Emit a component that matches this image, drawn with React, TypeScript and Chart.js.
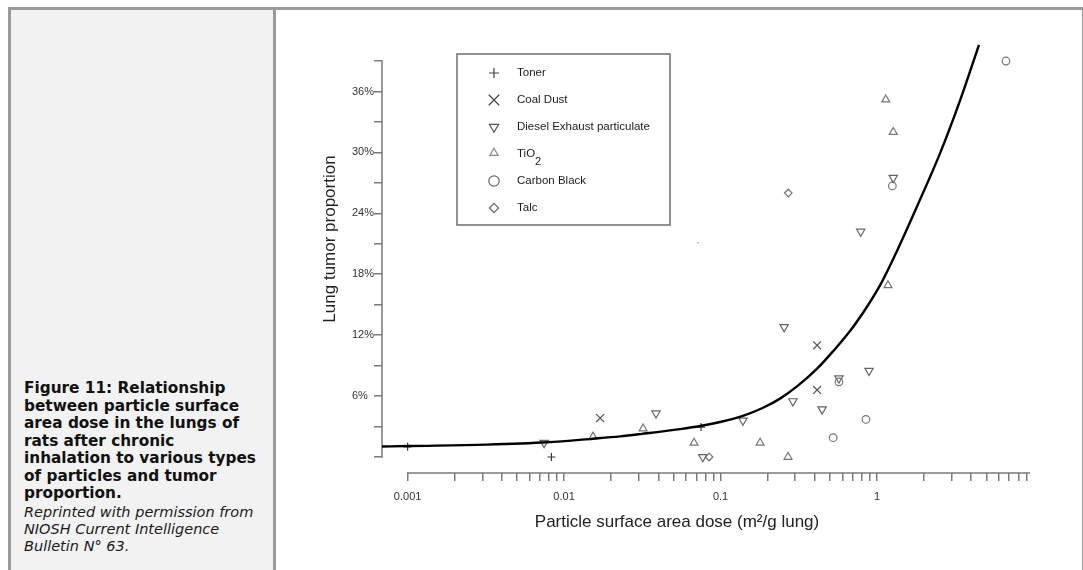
import React, { useEffect, useRef } from 'react';
import { Chart, registerables } from 'chart.js';

Chart.register(...registerables);

// ---------- data ----------
const TONER_X = [0.001, 0.0083, 0.075];
const TONER_Y = [1.0, 0, 2.95];

const COAL_X = [0.017, 0.414, 0.414];
const COAL_Y = [3.84, 11.0, 6.6];

const DIESEL_X = [0.00745, 0.0387, 0.139, 0.255, 0.29, 0.446, 0.571, 0.889, 0.077, 0.787, 1.27];
const DIESEL_Y = [1.4, 4.3, 3.6, 12.8, 5.5, 4.7, 7.75, 8.5, 0, 22.2, 27.5];

const TIO2_X = [0.0153, 0.032, 0.0677, 0.179, 0.27, 1.175, 1.137, 1.27];
const TIO2_Y = [2.0, 2.8, 1.4, 1.4, 0, 16.9, 35.2, 32.0];

const CARBON_X = [0.524, 0.85, 0.571, 1.253, 6.67];
const CARBON_Y = [1.9, 3.7, 7.4, 26.7, 39.0];

const TALC_X = [0.0845, 0.271];
const TALC_Y = [0, 26.0];

const STRAY_X = [0.0718];
const STRAY_Y = [21.1];

const CURVE_X = [0.000686, 0.001, 0.00318, 0.00778, 0.0153, 0.0228, 0.0315, 0.0551, 0.074, 0.0993, 0.139, 0.187, 0.24, 0.308, 0.414, 0.523, 0.672, 0.863, 1.045, 1.342, 1.828, 2.527, 3.391, 4.485];
const CURVE_Y = [1.03, 1.08, 1.22, 1.45, 1.8, 2.03, 2.28, 2.75, 3.05, 3.45, 4.05, 4.85, 5.75, 6.95, 8.7, 10.4, 12.4, 14.8, 16.9, 20.3, 24.9, 29.9, 35.1, 40.6];

const X_DECADES = [0.001, 0.01, 0.1, 1];
const X_DECADE_LABELS = ['0.001', '0.01', '0.1', '1'];
const X_MULTIPLES = [1, 2, 3, 4, 5, 6, 7, 8, 9];
const X_MIN = 0.000686;
const X_MAX = 9.5;

const Y_TICKS = [0, 3, 6, 9, 12, 15, 18, 21, 24, 27, 30, 33, 36, 39];
const Y_LABELLED = [6, 12, 18, 24, 30, 36];
const Y_MIN = -1.576;
const Y_MAX = 43.04;

const X_TITLE = 'Particle surface area dose (m\u00B2/g lung)';
const Y_TITLE = 'Lung tumor proportion';

// ---------- styles ----------
const AXIS_COLOR = '#7a7a7a';
const TICK_FONT = { family: "'Liberation Sans', Arial, sans-serif", size: 11 };
const SANS = "'Liberation Sans', Arial, sans-serif";

const xTicks: { value: number; label: string }[] = [];
X_DECADES.forEach((d, i) => {
  X_MULTIPLES.forEach((m) => {
    xTicks.push({ value: m * d, label: m === 1 ? X_DECADE_LABELS[i] : '' });
  });
});

const pts = (xs: number[], ys: number[]) => xs.map((x, i) => ({ x, y: ys[i] }));

function drawMarker(ctx: CanvasRenderingContext2D, style: string, x: number, y: number, r: number, rot: number) {
  ctx.beginPath();
  if (style === 'cross') {
    ctx.moveTo(x - r, y); ctx.lineTo(x + r, y);
    ctx.moveTo(x, y - r); ctx.lineTo(x, y + r);
  } else if (style === 'crossRot') {
    const d = r * Math.SQRT1_2;
    ctx.moveTo(x - d, y - d); ctx.lineTo(x + d, y + d);
    ctx.moveTo(x - d, y + d); ctx.lineTo(x + d, y - d);
  } else if (style === 'triangle') {
    let a = (rot * Math.PI) / 180;
    ctx.moveTo(x + Math.sin(a) * r, y - Math.cos(a) * r);
    a += (2 * Math.PI) / 3;
    ctx.lineTo(x + Math.sin(a) * r, y - Math.cos(a) * r);
    a += (2 * Math.PI) / 3;
    ctx.lineTo(x + Math.sin(a) * r, y - Math.cos(a) * r);
    ctx.closePath();
  } else if (style === 'circle') {
    ctx.arc(x, y, r, 0, Math.PI * 2);
  } else if (style === 'rectRot') {
    ctx.moveTo(x, y - r); ctx.lineTo(x + r, y); ctx.lineTo(x, y + r); ctx.lineTo(x - r, y);
    ctx.closePath();
  }
  ctx.stroke();
}

const framePlugin = {
  id: 'frame',
  beforeDatasetsDraw(chart: any) {
    const { ctx, chartArea, scales } = chart;
    const x = scales.x;
    const y = scales.y;
    ctx.save();
    ctx.strokeStyle = AXIS_COLOR;
    ctx.lineWidth = 1.5;
    ctx.beginPath();
    ctx.moveTo(chartArea.left, y.getPixelForValue(Y_TICKS[0]) + 0.75);
    ctx.lineTo(chartArea.left, y.getPixelForValue(Y_TICKS[Y_TICKS.length - 1]) - 0.75);
    ctx.stroke();
    ctx.beginPath();
    ctx.moveTo(x.getPixelForValue(X_DECADES[0]) - 0.75, chartArea.bottom);
    ctx.lineTo(chartArea.right, chartArea.bottom);
    ctx.stroke();
    ctx.restore();
  },
  afterDraw(chart: any) {
    const { ctx, chartArea } = chart;
    ctx.save();
    // axis titles
    ctx.fillStyle = '#222';
    ctx.font = `17px ${SANS}`;
    ctx.textAlign = 'center';
    ctx.textBaseline = 'middle';
    ctx.fillText(X_TITLE, chartArea.left + 295, chartArea.bottom + 49);
    ctx.save();
    ctx.translate(chartArea.left - 47, chartArea.top + 219);
    ctx.rotate(-Math.PI / 2);
    ctx.textBaseline = 'alphabetic';
    ctx.fillText(Y_TITLE, 0, 0);
    ctx.restore();

    // legend
    const lx = chartArea.left + 75;
    const ly = chartArea.top + 34;
    ctx.strokeStyle = '#6e6e6e';
    ctx.lineWidth = 1.5;
    ctx.strokeRect(lx, ly, 213, 171);
    const ds = chart.data.datasets.filter((d: any) => d.legendRadius);
    ds.forEach((d: any, i: number) => {
      const ry = ly + 19 + i * 27;
      ctx.strokeStyle = d.legendColor;
      ctx.lineWidth = 1.2;
      drawMarker(ctx, d.pointStyle, lx + 37, ry + (d.legendDy || 0), d.legendRadius, d.pointRotation || 0);
      ctx.fillStyle = '#1a1a1a';
      ctx.font = `11.5px ${SANS}`;
      ctx.textAlign = 'left';
      ctx.textBaseline = 'middle';
      ctx.fillText(d.legendText, lx + 60, ry);
      if (d.legendSub) {
        const w = ctx.measureText(d.legendText).width;
        ctx.font = `11px ${SANS}`;
        ctx.fillText(d.legendSub, lx + 60 + w, ry + 8);
      }
    });
    ctx.restore();
  },
};

const markerBase = {
  showLine: false,
  pointBackgroundColor: 'rgba(0,0,0,0)',
  pointBorderWidth: 1.2,
  pointHoverRadius: 0,
};

export default function App() {
  const ref = useRef<HTMLCanvasElement>(null);

  useEffect(() => {
    const chart = new Chart(ref.current as HTMLCanvasElement, {
      type: 'scatter',
      data: {
        datasets: [
          {
            label: 'Fit', data: pts(CURVE_X, CURVE_Y), showLine: true, borderColor: '#000',
            borderWidth: 2.4, pointRadius: 0, cubicInterpolationMode: 'monotone', fill: false,
          } as any,
          {
            ...markerBase, label: 'Toner', legendText: 'Toner', data: pts(TONER_X, TONER_Y),
            pointStyle: 'cross', pointRadius: 4, pointBorderColor: '#3a3a3a',
            legendRadius: 5, legendColor: '#444',
          } as any,
          {
            ...markerBase, label: 'Coal Dust', legendText: 'Coal Dust', data: pts(COAL_X, COAL_Y),
            pointStyle: 'crossRot', pointRadius: 5.6, pointBorderColor: '#555',
            legendRadius: 7.4, legendColor: '#444',
          } as any,
          {
            ...markerBase, label: 'Diesel Exhaust particulate', legendText: 'Diesel Exhaust particulate',
            data: pts(DIESEL_X, DIESEL_Y), pointStyle: 'triangle', pointRotation: 180, pointRadius: 4.8,
            pointBorderColor: '#666', legendRadius: 5.3, legendColor: '#555',
          } as any,
          {
            ...markerBase, label: 'TiO2', legendText: 'TiO', legendSub: '2', data: pts(TIO2_X, TIO2_Y),
            pointStyle: 'triangle', pointRadius: 4.6, pointBorderColor: '#777',
            legendRadius: 4.8, legendColor: '#888', legendDy: -1,
          } as any,
          {
            ...markerBase, label: 'Carbon Black', legendText: 'Carbon Black', data: pts(CARBON_X, CARBON_Y),
            pointStyle: 'circle', pointRadius: 3.8, pointBorderColor: '#777',
            legendRadius: 5.2, legendColor: '#666',
          } as any,
          {
            ...markerBase, label: 'Talc', legendText: 'Talc', data: pts(TALC_X, TALC_Y),
            pointStyle: 'rectRot', pointRadius: 3.8, pointBorderColor: '#777',
            legendRadius: 4.6, legendColor: '#666',
          } as any,
          {
            ...markerBase, label: 'dot', data: pts(STRAY_X, STRAY_Y), pointStyle: 'circle',
            pointRadius: 0.8, pointBorderWidth: 0, pointBackgroundColor: '#888',
          } as any,
        ],
      },
      options: {
        responsive: false,
        animation: false,
        events: [],
        layout: { padding: { left: 76, right: 52, top: 10, bottom: 0 } },
        plugins: { legend: { display: false }, tooltip: { enabled: false }, title: { display: false } },
        scales: {
          x: {
            type: 'logarithmic',
            min: X_MIN,
            max: X_MAX,
            afterBuildTicks: (s: any) => { s.ticks = xTicks.map((t) => ({ value: t.value })); },
            afterFit: (s: any) => { s.height = 97; },
            grid: { drawOnChartArea: false, drawTicks: true, tickLength: 8, color: AXIS_COLOR, lineWidth: 1.5 },
            border: { display: false },
            ticks: {
              autoSkip: false, maxRotation: 0, minRotation: 0, padding: 9, color: '#333', font: TICK_FONT,
              callback: (_v: any, i: number) => xTicks[i] ? xTicks[i].label : '',
            },
          },
          y: {
            type: 'linear',
            min: Y_MIN,
            max: Y_MAX,
            afterBuildTicks: (s: any) => { s.ticks = Y_TICKS.map((v) => ({ value: v })); },
            afterFit: (s: any) => { s.width = 30; },
            grid: { drawOnChartArea: false, drawTicks: true, tickLength: 8, color: AXIS_COLOR, lineWidth: 1.5 },
            border: { display: false },
            ticks: {
              autoSkip: false, crossAlign: 'far', padding: 0, color: '#333', font: TICK_FONT,
              callback: (v: any) => (Y_LABELLED.includes(Number(v)) ? `${v}%` : ''),
            },
          },
        },
      } as any,
      plugins: [framePlugin],
    });
    return () => chart.destroy();
  }, []);

  const gray = '#9a9a9a';
  return (
    <div style={{ position: 'absolute', left: 0, top: 0, width: 1083, height: 570, background: '#fff', overflow: 'hidden' }}>
      <div style={{ position: 'absolute', left: 11, top: 10, width: 262, height: 560, background: '#f2f2f2' }} />
      <div style={{ position: 'absolute', left: 8, top: 7, width: 1075, height: 3, background: gray }} />
      <div style={{ position: 'absolute', left: 8, top: 7, width: 3, height: 563, background: gray }} />
      <div style={{ position: 'absolute', left: 273, top: 7, width: 3, height: 563, background: gray }} />
      <div style={{ position: 'absolute', left: 1082, top: 7, width: 1, height: 563, background: gray }} />
      <div style={{
        position: 'absolute', left: 24, top: 380, whiteSpace: 'nowrap', fontFamily: "'DejaVu Sans', Verdana, sans-serif",
        fontWeight: 'bold', fontSize: '15.3px', lineHeight: '17.5px', color: '#111',
      }}>
        Figure 11: Relationship<br />between particle surface<br />area dose in the lungs of<br />rats after chronic<br />
        inhalation to various types<br />of particles and tumor<br />proportion.
      </div>
      <div style={{
        position: 'absolute', left: 24, top: 504, whiteSpace: 'nowrap', fontFamily: "'DejaVu Sans', Verdana, sans-serif",
        fontStyle: 'italic', fontSize: '14.5px', lineHeight: '17px', color: '#1a1a1a',
      }}>
        Reprinted with permission from<br />NIOSH Current Intelligence<br />Bulletin N° 63.
      </div>
      <canvas ref={ref} width={806} height={560}
        style={{ position: 'absolute', left: 276, top: 10, width: 806, height: 560, display: 'block' }} />
    </div>
  );
}
